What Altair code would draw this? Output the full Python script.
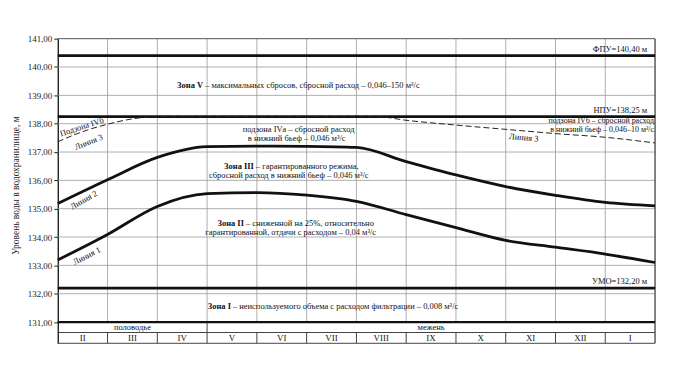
import altair as alt
import pandas as pd

# ---------------- data ----------------
months = ["II", "III", "IV", "V", "VI", "VII", "VIII", "IX", "X", "XI", "XII", "I"]
bounds = list(range(13))

# curves (x = month boundary index, 0 = start of II)
line_x = list(range(13))
line1_y = [133.19, 134.09, 135.08, 135.53, 135.57, 135.48, 135.26, 134.79, 134.33, 133.88, 133.64, 133.40, 133.10]
line2_y = [135.18, 136.02, 136.81, 137.19, 137.21, 137.20, 137.16, 136.66, 136.19, 135.78, 135.47, 135.22, 135.10]
line3_x = [0, 0.5, 1, 1.5, 2, 6.4, 7, 8, 9, 10, 11, 12]
line3_y = [137.36, 137.72, 137.98, 138.17, 138.25, 138.25, 138.12, 137.95, 137.80, 137.65, 137.52, 137.32]

level_values = [140.40, 138.25, 132.20]
level_labels = ["ФПУ=140,40 м", "НПУ=138,25 м", "УМО=132,20 м"]
base_level = 131.00
y_ticks = [131, 132, 133, 134, 135, 136, 137, 138, 139, 140, 141]
grid_y = [132, 133, 134, 135, 136, 137, 138, 139, 140]
grid_x = [1, 2, 3, 4, 5, 6, 7, 8, 9, 10, 11]
y_bottom = 130.25
row_split = 130.63
season_split = 3

# zone annotations with bold prefix
bold_text = ["Зона V", "Зона III", "Зона II", "Зона I"]
rest_text = ["– максимальных сбросов, сбросной расход – 0,046–150 м³/с",
             "– гарантированного режима,",
             "– сниженной на 25%, относительно",
             "– неиспользуемого объема с расходом фильтрации – 0,008 м³/с"]
bold_x = [2.92, 3.94, 3.74, 3.48]
bold_y = [139.35, 136.50, 134.50, 131.58]

center_text = ["подзона IVа – сбросной расход", "в нижний бьеф – 0,046 м³/с",
               "сбросной расход в нижний бьеф – 0,046 м³/с",
               "гарантированной, отдачи с расходом – 0,04 м³/с",
               "половодье", "межень"]
center_x = [4.84, 4.80, 4.64, 4.68, 1.5, 7.5]
center_y = [137.80, 137.49, 136.19, 134.18, 130.815, 130.815]

right_text = ["подзона IVб – сбросной расход", "в нижний бьеф – 0,046–10 м³/с"]
right_x = [11.98, 11.98]
right_y = [138.10, 137.79]

rot_text = ["Подзона IVб", "Линия 3", "Линия 2", "Линия 1", "Линия 3"]
rot_x = [0.48, 0.62, 0.52, 0.58, 9.36]
rot_y = [137.90, 137.36, 135.31, 133.34, 137.52]
rot_angle = [342, 338, 330, 333, 5]

FONT = "Liberation Serif"
FS = 8.5

# ---------------- scales / axes ----------------
xs = alt.Scale(domain=[0, 12], nice=False, zero=False)
ys = alt.Scale(domain=[y_bottom, 141], nice=False, zero=False)
yaxis = alt.Axis(values=y_ticks, labelExpr="replace(format(datum.value, '.2f'), '.', ',')",
                 title="Уровень воды в водохранилище, м", grid=False,
                 labelFont=FONT, labelFontSize=9, labelColor="#222",
                 titleFont=FONT, titleFontSize=9.5, titleFontWeight="normal", titleColor="#222",
                 titleX=-42, titleY=147, titleAngle=270, titleAlign="center", titleBaseline="middle",
                 tickSize=4, tickColor="#222", domainColor="#111", domainWidth=1.3, labelPadding=2)


def X(f="x"):
    return alt.X(f + ":Q", scale=xs, axis=None)


def Y(f="y"):
    return alt.Y(f + ":Q", scale=ys, axis=yaxis)


layers = []

# grid
gh = pd.DataFrame({"y": grid_y, "x": 0, "x2": 12})
layers.append(alt.Chart(gh).mark_rule(color="#9a9a9a", strokeWidth=0.8).encode(x=X(), x2="x2:Q", y=Y()))
gv = pd.DataFrame({"x": grid_x, "y": base_level, "y2": 141})
layers.append(alt.Chart(gv).mark_rule(color="#9a9a9a", strokeWidth=0.8).encode(x=X(), y=Y(), y2="y2:Q"))

# frame: top, right, table
top = pd.DataFrame({"y": [141], "x": [0], "x2": [12]})
layers.append(alt.Chart(top).mark_rule(color="#555", strokeWidth=1).encode(x=X(), x2="x2:Q", y=Y()))
rb = pd.DataFrame({"x": [12], "y": [y_bottom], "y2": [141]})
layers.append(alt.Chart(rb).mark_rule(color="#333", strokeWidth=1.2).encode(x=X(), y=Y(), y2="y2:Q"))
th = pd.DataFrame({"y": [row_split, y_bottom], "x": 0, "x2": 12})
layers.append(alt.Chart(th).mark_rule(color="#444", strokeWidth=1).encode(x=X(), x2="x2:Q", y=Y()))
tv = pd.DataFrame({"x": bounds[1:12], "y": y_bottom, "y2": row_split})
layers.append(alt.Chart(tv).mark_rule(color="#444", strokeWidth=1).encode(x=X(), y=Y(), y2="y2:Q"))
sv = pd.DataFrame({"x": [season_split], "y": [row_split], "y2": [base_level]})
layers.append(alt.Chart(sv).mark_rule(color="#444", strokeWidth=1).encode(x=X(), y=Y(), y2="y2:Q"))

# level lines
lv = pd.DataFrame({"y": level_values, "x": 0, "x2": 12, "label": level_labels})
layers.append(alt.Chart(lv).mark_rule(color="#111", strokeWidth=2.8).encode(x=X(), x2="x2:Q", y=Y()))
bl = pd.DataFrame({"y": [base_level], "x": [0], "x2": [12]})
layers.append(alt.Chart(bl).mark_rule(color="#111", strokeWidth=2.2).encode(x=X(), x2="x2:Q", y=Y()))
lvt = pd.DataFrame({"y": level_values, "x": 11.84, "label": level_labels})
layers.append(alt.Chart(lvt).mark_text(font=FONT, fontSize=FS, align="right", baseline="bottom", dy=-2,
                                       color="#111").encode(x=X(), y=Y(), text="label:N"))

# curves
c1 = pd.DataFrame({"x": line_x, "y": line1_y})
c2 = pd.DataFrame({"x": line_x, "y": line2_y})
c3 = pd.DataFrame({"x": line3_x, "y": line3_y})
layers.append(alt.Chart(c3).mark_line(color="#222", strokeWidth=1, strokeDash=[6, 3],
                                      interpolate="monotone").encode(x=X(), y=Y()))
layers.append(alt.Chart(c1).mark_line(color="#111", strokeWidth=2.8, interpolate="monotone").encode(x=X(), y=Y()))
layers.append(alt.Chart(c2).mark_line(color="#111", strokeWidth=2.8, interpolate="monotone").encode(x=X(), y=Y()))

# texts
bt = pd.DataFrame({"x": bold_x, "y": bold_y, "t": bold_text, "r": rest_text})
layers.append(alt.Chart(bt).mark_text(font=FONT, fontSize=FS, fontWeight="bold", align="right",
                                      baseline="middle", color="#111").encode(x=X(), y=Y(), text="t:N"))
layers.append(alt.Chart(bt).mark_text(font=FONT, fontSize=FS, align="left", dx=2,
                                      baseline="middle", color="#111").encode(x=X(), y=Y(), text="r:N"))
ct = pd.DataFrame({"x": center_x, "y": center_y, "t": center_text})
layers.append(alt.Chart(ct).mark_text(font=FONT, fontSize=FS, align="center", baseline="middle",
                                      color="#111").encode(x=X(), y=Y(), text="t:N"))
rt = pd.DataFrame({"x": right_x, "y": right_y, "t": right_text})
layers.append(alt.Chart(rt).mark_text(font=FONT, fontSize=8, align="right", baseline="middle",
                                      color="#111").encode(x=X(), y=Y(), text="t:N"))
ro = pd.DataFrame({"x": rot_x, "y": rot_y, "t": rot_text, "a": rot_angle})
layers.append(alt.Chart(ro).mark_text(font=FONT, fontSize=FS, align="center", baseline="middle",
                                      color="#111").encode(x=X(), y=Y(), text="t:N",
                                                           angle=alt.Angle("a:Q", scale=None)))
mt = pd.DataFrame({"x": [b + 0.5 for b in bounds[:12]], "y": (y_bottom + row_split) / 2, "t": months})
layers.append(alt.Chart(mt).mark_text(font=FONT, fontSize=FS + 0.5, align="center", baseline="middle",
                                      color="#111").encode(x=X(), y=Y(), text="t:N"))

chart = alt.layer(*layers).properties(
    width=600, height=306,
    padding={"left": 50, "top": 30, "right": 10, "bottom": 20},
    autosize=alt.AutoSizeParams(type="none"),
    background="white",
).configure_view(stroke=None)

chart.save("out.html", embed_options={"renderer": "svg", "actions": False})
